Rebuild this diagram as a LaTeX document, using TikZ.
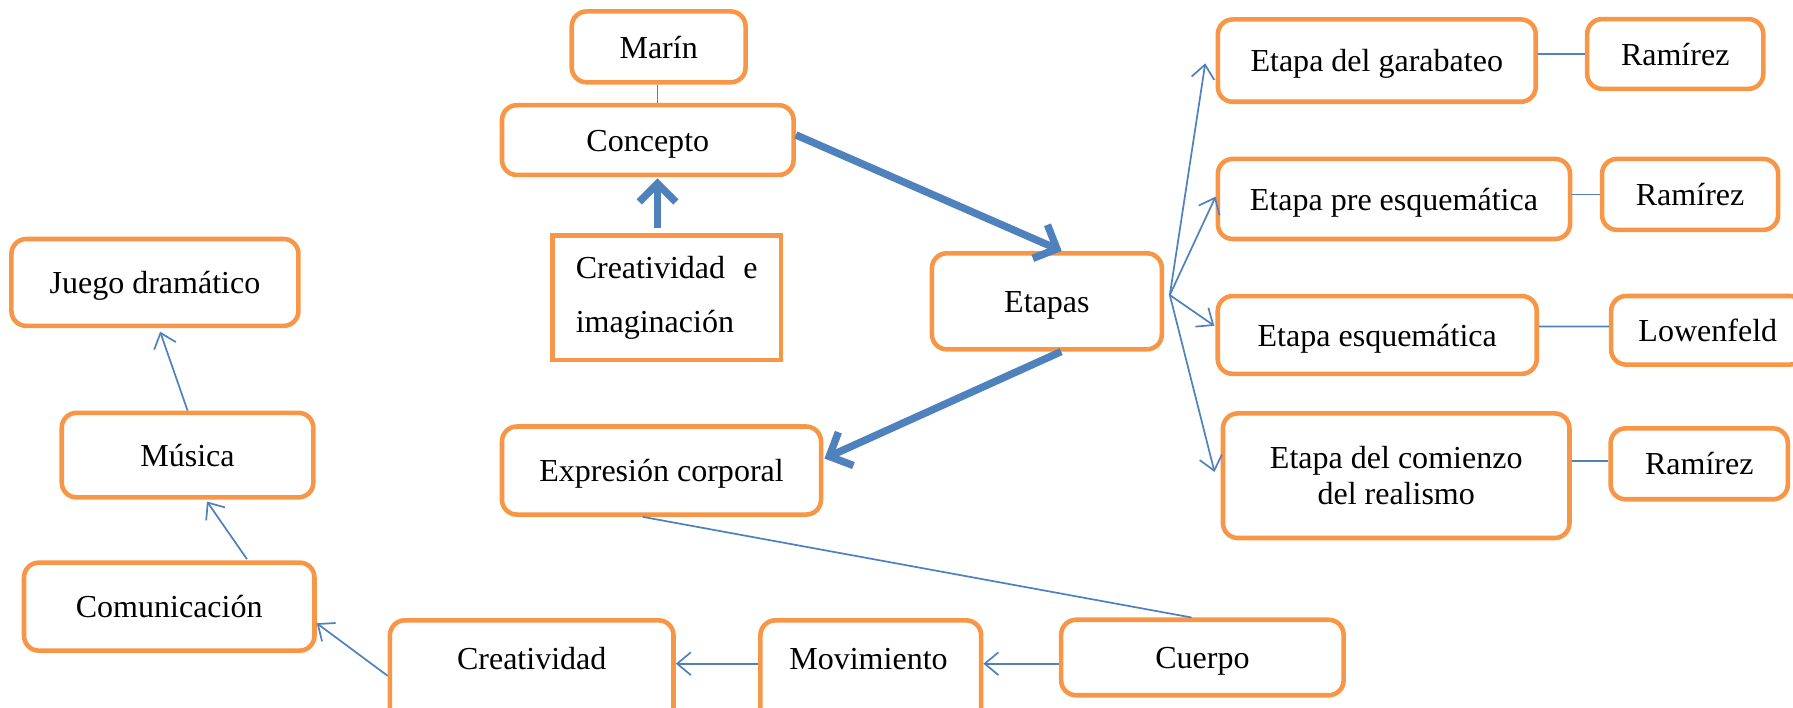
\documentclass[tikz,border=0pt]{standalone}
\usepackage{fontspec}
\setmainfont{Liberation Serif}
\usetikzlibrary{arrows.meta,calc}
\definecolor{boxorange}{HTML}{F79646}
\definecolor{linkblue}{HTML}{4F81BD}
\tikzset{
  txtfont/.style={font=\fontsize{28}{31.5}\selectfont},
  oneline/.style={text height=19.5pt, text depth=0pt},
  basebox/.style={draw=boxorange, line width=4pt, rounded corners=13pt, fill=white, inner sep=0pt, align=center, txtfont},
  box/.style={basebox, oneline},
  plainbox/.style={draw=boxorange, line width=4pt, fill=white, inner sep=0pt, align=left, txtfont},
  lbl/.style={inner sep=0pt, align=center, txtfont, oneline},
  linkline/.style={draw=linkblue, line width=1.5pt},
  linkarrow/.style={linkline, -{Straight Barb[length=12pt,width=20pt]}},
  bigarrow/.style={draw=linkblue, line width=6.5pt, -{Straight Barb[length=16pt,width=32pt]}},
}
\begin{document}
\begin{tikzpicture}[x=1pt,y=-1pt]
\useasboundingbox (0,0) rectangle (1568,619);
% top centre
\node[box, minimum width=152pt, minimum height=62pt] (marin) at (576,41) {Marín};
\node[box, minimum width=255pt, minimum height=61pt] (concepto) at (566.5,122.5) {Concepto};
\node[plainbox, minimum width=200pt, minimum height=109pt] (creaimag) at (583,260.5) {\makebox[159pt][l]{Creatividad\hfill e}\\[16.5pt]imaginación};
\node[box, minimum width=201pt, minimum height=84pt] (etapas) at (915.5,263.5) {Etapas};
\node[box, minimum width=279pt, minimum height=77pt] (expresion) at (578.5,411.5) {Expresión corporal};
% right column
\node[box, minimum width=278pt, minimum height=72pt] (garabateo) at (1204,53) {Etapa del garabateo};
\node[box, minimum width=154pt, minimum height=61pt] (ramirezA) at (1465,47.2) {Ramírez};
\node[box, minimum width=308pt, minimum height=70pt] (pre) at (1219,174) {Etapa pre esquemática};
\node[box, minimum width=154pt, minimum height=62pt] (ramirezB) at (1478,170) {Ramírez};
\node[box, minimum width=279pt, minimum height=68pt] (esquematica) at (1204.4,292.9) {Etapa esquemática};
\node[box, minimum width=169pt, minimum height=60pt] (lowenfeld) at (1493.5,288.85) {Lowenfeld};
\node[basebox, minimum width=303pt, minimum height=109pt] (comienzo) at (1221,416) {Etapa del comienzo\\del realismo};
\node[box, minimum width=155pt, minimum height=62pt] (ramirezD) at (1486,405.6) {Ramírez};
% bottom row
\node[box, minimum width=247pt, minimum height=66pt] (cuerpo) at (1051.5,575) {Cuerpo};
\node[box, minimum width=193pt, minimum height=97pt] (movbox) at (761.5,591) {};
\node[lbl] (movtxt) at (759.5,576) {Movimiento};
\node[box, minimum width=248pt, minimum height=97pt] (creabox) at (465,591) {};
\node[lbl] (creatxt) at (465,576) {Creatividad};
% left column
\node[box, minimum width=254pt, minimum height=77pt] (comunicacion) at (148,530.5) {Comunicación};
\node[box, minimum width=220pt, minimum height=74pt] (musica) at (164,398) {Música};
\node[box, minimum width=251pt, minimum height=76pt] (juego) at (135.5,247) {Juego dramático};
% connectors
\draw[linkline] ($(marin.south)+(-1,0)$) -- ($(concepto.north)+(8.5,0)$);
\draw[bigarrow] ($(creaimag.north)+(-8,-5)$) -- ($(concepto.south)+(8.5,1)$);
\draw[bigarrow] ($(concepto.east)+(0,-4.5)$) -- ($(etapas.north)+(13,0)$);
\draw[bigarrow] ($(etapas.south)+(12.5,0)$) -- ($(expresion.east)+(1,-10.5)$);
\coordinate (hub) at ($(etapas.east)+(5,-5.5)$);
\draw[linkarrow] (hub) -- ($(garabateo.west)+(-9,2.4)$);
\draw[linkarrow] (hub) -- ($(pre.west)+(0,-2)$);
\draw[linkarrow] (hub) -- ($(esquematica.west)+(-1,-8)$);
\draw[linkarrow] (hub) -- ($(comienzo.west)+(-5.4,-3.3)$);
\draw[linkline] (garabateo.east |- ramirezA.west) -- (ramirezA.west);
\draw[linkline] (pre.east |- ramirezB.west) -- (ramirezB.west);
\draw[linkline] ($(esquematica.east)+(0,-7.3)$) -- ($(lowenfeld.west)+(0,-3.3)$);
\draw[linkline] ($(comienzo.east)+(0,-13)$) -- ($(ramirezD.west)+(0,-2.6)$);
\draw[linkline] ($(expresion.south)+(-16.5,0)$) -- ($(cuerpo.north)+(-9.5,0)$);
\coordinate (cm) at ($(cuerpo.west)+(0,5.4)$);
\draw[linkarrow] (cm) -- (cm -| movbox.east);
\draw[linkarrow] (cm -| movbox.west) -- (cm -| creabox.east);
\draw[linkarrow] (creabox.west) -- ($(comunicacion.east)+(0,14.5)$);
\draw[linkarrow] ($(comunicacion.north)+(68,-1)$) -- ($(musica.south)+(17,1.6)$);
\draw[linkarrow] (musica.north) -- ($(juego.south)+(4.5,3)$);
\end{tikzpicture}
\end{document}
